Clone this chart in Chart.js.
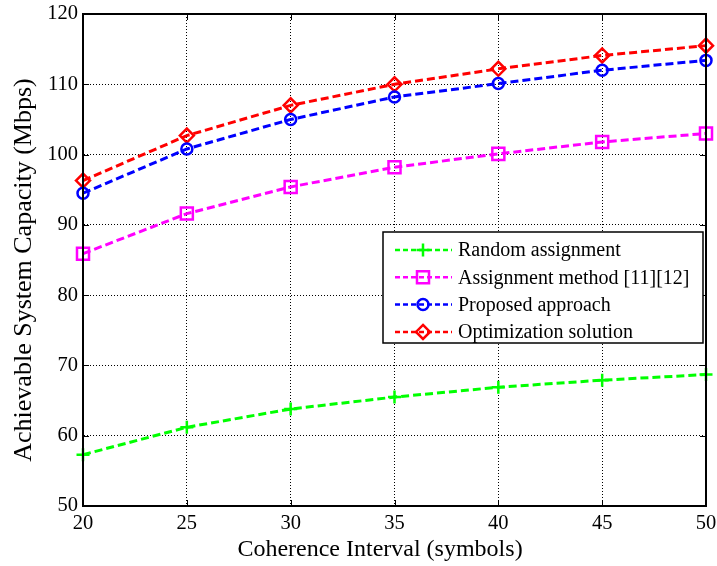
<!DOCTYPE html>
<html>
<head>
<meta charset="utf-8">
<script src="https://cdn.jsdelivr.net/npm/chart.js@4.4.1/dist/chart.umd.min.js"></script>
<style>
    html, body { margin: 0; padding: 0; background: #fff; }
    #wrap { width: 717px; height: 566px; }
</style>
</head>
<body>
<div id="wrap"><canvas id="capacityChart" width="717" height="566"></canvas></div>
<script>
// Valeurs
const coherenceInterval = [20, 25, 30, 35, 40, 45, 50];
const randomAssignment = [57.3, 61.2, 63.8, 65.5, 66.9, 67.9, 68.7];
const assignmentMethod = [85.9, 91.6, 95.4, 98.2, 100.1, 101.8, 103.0];
const proposedApproach = [94.5, 100.8, 105.0, 108.2, 110.1, 112.0, 113.4];
const optimizationSolution = [96.3, 102.7, 107.0, 110.0, 112.2, 114.1, 115.5];
const seriesLabels = ["Random assignment", "Assignment method [11][12]", "Proposed approach", "Optimization solution"];
const xTicks = [20, 25, 30, 35, 40, 45, 50];
const yTicks = [50, 60, 70, 80, 90, 100, 110, 120];
const xTitle = "Coherence Interval (symbols)";
const yTitle = "Achievable System Capacity (Mbps)";

const serif = "'Liberation Serif', 'Times New Roman', serif";

function toPoints(values) {
    return values.map((v, i) => ({ x: coherenceInterval[i], y: v }));
}

function makeDataset(label, values, color, style, radius) {
    return {
        label: label,
        data: toPoints(values),
        borderColor: color,
        backgroundColor: color,
        borderWidth: 3,
        borderDash: [8, 4],
        tension: 0,
        pointStyle: style,
        pointRadius: radius,
        pointHoverRadius: radius,
        pointBorderColor: color,
        pointBackgroundColor: "rgba(0,0,0,0)",
        pointBorderWidth: 2.5,
        clip: false,
    };
}

function drawMarker(ctx, style, x, y, r) {
    ctx.beginPath();
    if (style === "cross") {
        ctx.moveTo(x - r, y); ctx.lineTo(x + r, y);
        ctx.moveTo(x, y - r); ctx.lineTo(x, y + r);
    } else if (style === "rect") {
        let s = r * Math.SQRT1_2;
        ctx.rect(x - s, y - s, 2 * s, 2 * s);
    } else if (style === "circle") {
        ctx.arc(x, y, r, 0, Math.PI * 2);
    } else if (style === "rectRot") {
        ctx.moveTo(x, y - r); ctx.lineTo(x + r, y);
        ctx.lineTo(x, y + r); ctx.lineTo(x - r, y);
        ctx.closePath();
    }
    ctx.stroke();
}

// Cadre, graduations intérieures, titres et légende façon MATLAB
const matlabFrame = {
    id: "matlabFrame",
    afterDraw(chart) {
        const ctx = chart.ctx;
        const a = chart.chartArea;
        const xs = chart.scales.x;
        const ys = chart.scales.y;
        ctx.save();
        ctx.strokeStyle = "#000";
        ctx.lineWidth = 1;
        ctx.setLineDash([]);
        ctx.beginPath();
        xTicks.forEach(v => {
            let px = Math.round(xs.getPixelForValue(v)) + 0.5;
            ctx.moveTo(px, a.bottom); ctx.lineTo(px, a.bottom - 6);
            ctx.moveTo(px, a.top); ctx.lineTo(px, a.top + 6);
        });
        yTicks.forEach(v => {
            let py = Math.round(ys.getPixelForValue(v)) + 0.5;
            ctx.moveTo(a.left, py); ctx.lineTo(a.left + 6, py);
            ctx.moveTo(a.right, py); ctx.lineTo(a.right - 6, py);
        });
        ctx.stroke();

        ctx.lineWidth = 2;
        ctx.strokeRect(a.left, a.top, a.right - a.left, a.bottom - a.top);

        // titres des axes
        ctx.fillStyle = "#000";
        ctx.textAlign = "center";
        ctx.textBaseline = "middle";
        ctx.font = "24px " + serif;
        ctx.fillText(xTitle, a.left + 297, a.bottom + 44);
        ctx.save();
        ctx.translate(24, a.top + 256);
        ctx.rotate(-Math.PI / 2);
        ctx.font = "26px " + serif;
        ctx.fillText(yTitle, 0, 0);
        ctx.restore();

        // légende
        let bx = a.right - 323, by = a.top + 218, bw = 320, bh = 111;
        ctx.fillStyle = "#fff";
        ctx.fillRect(bx, by, bw, bh);
        ctx.lineWidth = 1.5;
        ctx.strokeRect(bx, by, bw, bh);

        ctx.font = "20px " + serif;
        ctx.textBaseline = "middle";
        ctx.textAlign = "left";
        chart.data.datasets.forEach((ds, i) => {
            let ly = by + 18 + i * 27.3;
            ctx.strokeStyle = ds.borderColor;
            ctx.lineWidth = 2.5;
            ctx.setLineDash([5, 3]);
            ctx.beginPath();
            ctx.moveTo(bx + 12, ly); ctx.lineTo(bx + 69, ly);
            ctx.stroke();
            ctx.setLineDash([]);
            ctx.lineWidth = 2.5;
            drawMarker(ctx, ds.pointStyle, bx + 40, ly, ds.pointRadius);
            ctx.fillStyle = "#000";
            ctx.fillText(ds.label, bx + 75, ly + 1);
        });
        ctx.restore();
    }
};

document.addEventListener("DOMContentLoaded", function () {
    let canvas = document.getElementById("capacityChart");

    new Chart(canvas, {
        type: "line",
        data: {
            datasets: [
                makeDataset(seriesLabels[0], randomAssignment, "#00ff00", "cross", 6.5),
                makeDataset(seriesLabels[1], assignmentMethod, "#ff00ff", "rect", 8.5),
                makeDataset(seriesLabels[2], proposedApproach, "#0000ff", "circle", 5.5),
                makeDataset(seriesLabels[3], optimizationSolution, "#ff0000", "rectRot", 7),
            ],
        },
        options: {
            responsive: false,
            animation: false,
            devicePixelRatio: 1,
            layout: { padding: { top: 14, right: 9, left: 0, bottom: 0 } },
            plugins: {
                legend: { display: false },
                tooltip: { enabled: false },
            },
            scales: {
                x: {
                    type: "linear",
                    min: 20,
                    max: 50,
                    afterBuildTicks: s => { s.ticks = xTicks.map(v => ({ value: v })); },
                    afterFit: s => { s.height = 60; s.paddingLeft = 0; s.paddingRight = 0; },
                    grid: { color: "#000", lineWidth: 1, drawTicks: false },
                    border: { display: true, color: "#000", width: 2, dash: [1, 2] },
                    ticks: {
                        color: "#000",
                        font: { family: serif, size: 20.5 },
                        padding: 5,
                        maxRotation: 0,
                        autoSkip: false,
                    },
                    title: { display: false },
                },
                y: {
                    min: 50,
                    max: 120,
                    afterBuildTicks: s => { s.ticks = yTicks.map(v => ({ value: v })); },
                    afterFit: s => { s.width = 83; s.paddingTop = 0; s.paddingBottom = 0; },
                    grid: { color: "#000", lineWidth: 1, drawTicks: false },
                    border: { display: true, color: "#000", width: 2, dash: [1, 2] },
                    ticks: {
                        color: "#000",
                        font: { family: serif, size: 20.5 },
                        padding: 5,
                    },
                    title: { display: false },
                },
            },
        },
        plugins: [matlabFrame],
    });
});
</script>
</body>
</html>
